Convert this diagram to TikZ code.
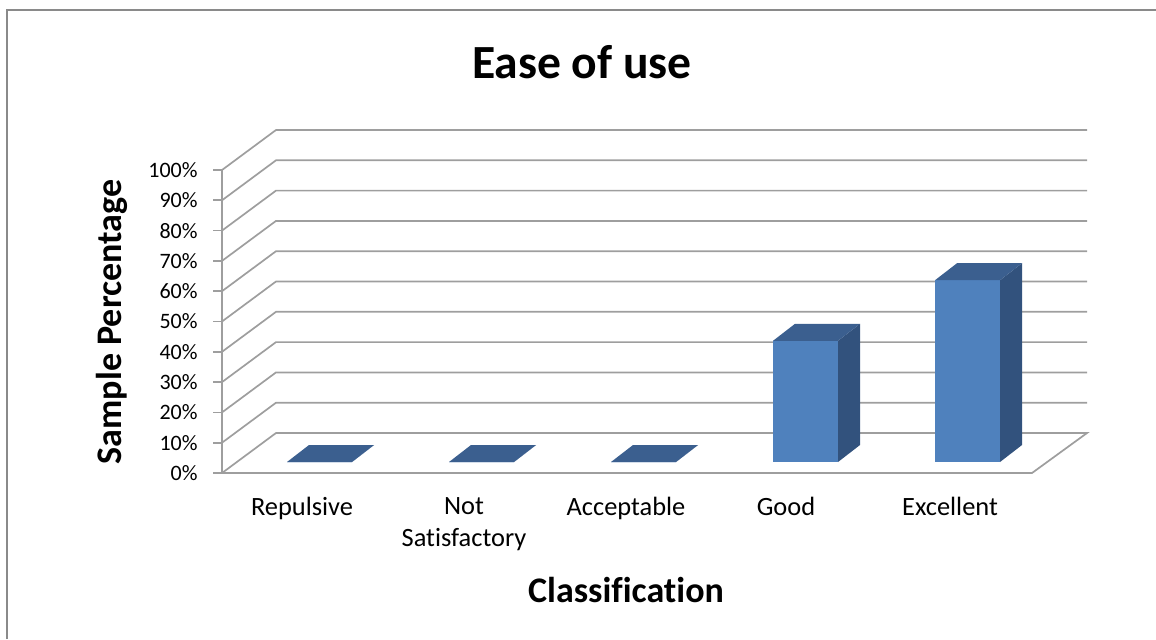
\documentclass[tikz,border=0pt]{standalone}
\usepackage{fontspec}
\setmainfont{Carlito}[Ligatures=NoCommon]
\usetikzlibrary{calc}
\usetikzlibrary{positioning}
\definecolor{barfront}{HTML}{4F81BD}
\definecolor{bartop}{HTML}{3B5F8F}
\definecolor{barside}{HTML}{32527D}
\definecolor{gridgray}{HTML}{9E9E9E}
\definecolor{framegray}{HTML}{8A8A8A}

\begin{document}
\begin{tikzpicture}[x=0.5pt,y=-0.5pt]
		\tikzstyle{gridline}=[draw=gridgray, line width=0.85pt]
		\tikzstyle{ylab}=[anchor=east, inner sep=0pt, font=\fontsize{11}{12}\selectfont]
		\tikzstyle{catlab}=[anchor=north, inner sep=0pt, align=center, font=\fontsize{13.2}{16}\selectfont]
		\tikzstyle{axtitle}=[inner sep=0pt, font=\bfseries\fontsize{18}{20}\selectfont]
		\useasboundingbox (0,0) rectangle (1156,639);
		% frame
		\draw[draw=framegray, line width=1pt] (7,639) -- (7,10) -- (1156,10);
		% walls and floor
			\foreach \i in {1,...,10}{
				\pgfmathsetmacro{\yy}{473-30.3*\i}
				\draw[gridline] (222,\yy) -- ++(54,-40) -- (1087,\yy-40);
				}
			\draw[gridline] (222,473) -- ++(54,-40) -- (1087,433) -- (1032,473) -- cycle;
			\draw[gridline] (222,170) -- (222,473);
			\foreach \i in {0,...,10}{
				\pgfmathsetmacro{\yy}{473-30.3*\i}
				\draw[gridline] (213,\yy) -- (222,\yy);
				\pgfmathtruncatemacro{\pc}{10*\i}
				\node[ylab] (lab\i) at (198,\yy) {\pc\%};
				}
		% bars
			\foreach \k/\v in {0/0,1/0,2/0,3/40,4/60}{
				\pgfmathsetmacro{\xx}{287+162*\k}
				\pgfmathsetmacro{\tp}{462-3.03*\v}
				\fill[barfront] (\xx,462) rectangle (\xx+65,\tp);
				\fill[barside] (\xx+65,462) -- (\xx+65,\tp) -- ++(22,-17) -- (\xx+87,445) -- cycle;
				\fill[bartop] (\xx,\tp) -- (\xx+65,\tp) -- ++(22,-17) -- (\xx+22,\tp-17) -- cycle;
				}
		% labels
			\node[catlab] (cat0) at (302,497) {Repulsive};
			\node[catlab] (cat1) at (464,497) {Not\\Satisfactory};
			\node[catlab] (cat2) at (626,497) {Acceptable};
			\node[catlab] (cat3) at (786,497) {Good};
			\node[catlab] (cat4) at (950,497) {Excellent};
			\node[inner sep=0pt, font=\bfseries\fontsize{23.8}{26}\selectfont] (title) at (582,62) {Ease of use};
			\node[axtitle, rotate=90] (ytitle) at (112,322) {Sample Percentage};
			\node[axtitle] (xtitle) at (626,590) {Classification};
\end{tikzpicture}
\end{document}
